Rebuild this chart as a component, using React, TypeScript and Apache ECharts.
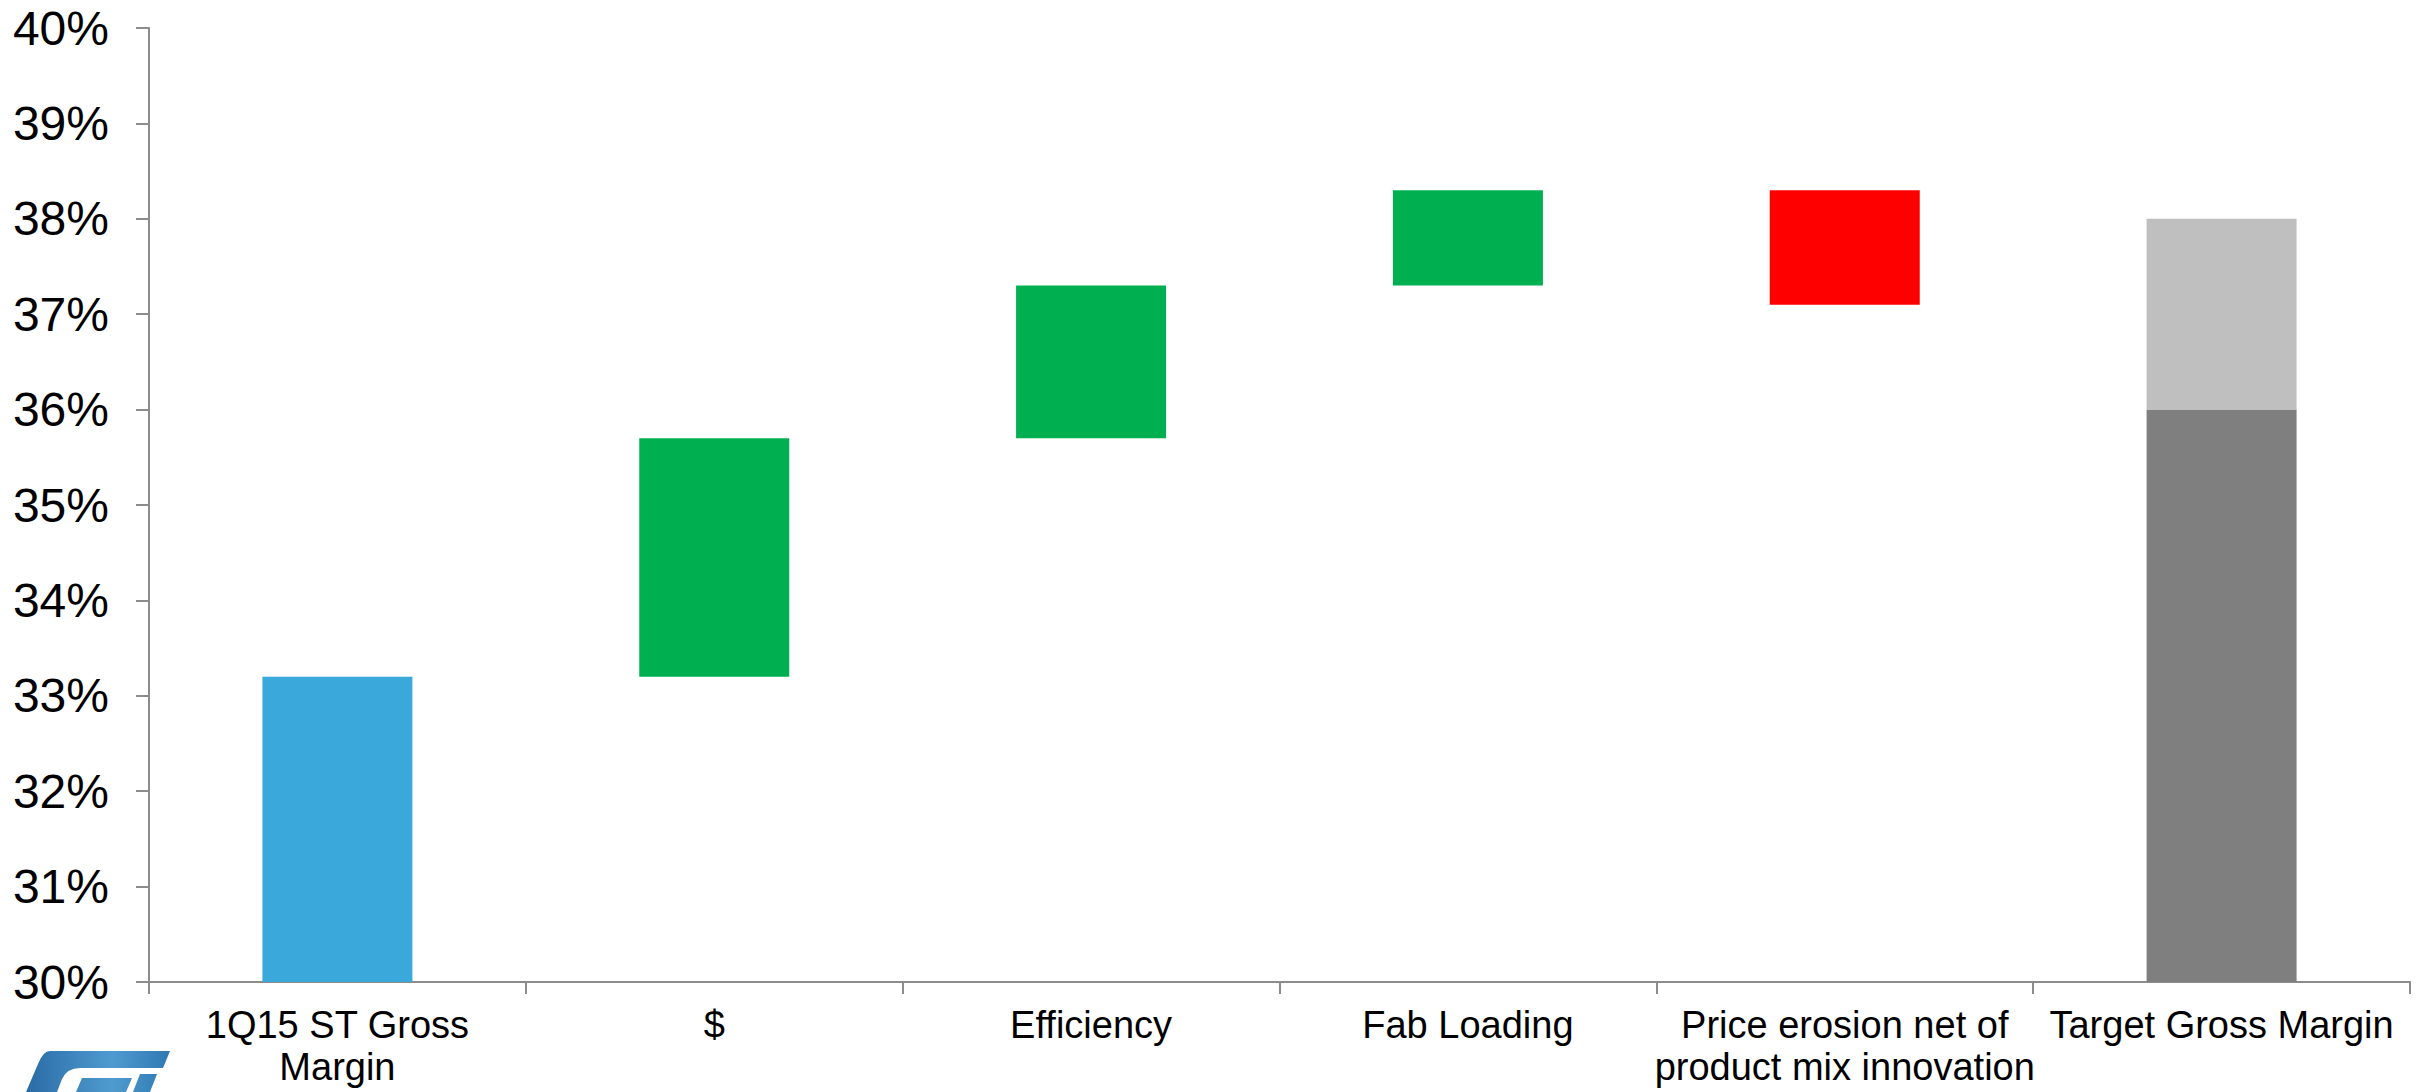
import React, { useEffect, useRef } from "react";
import * as echarts from "echarts";

const categories = [
  "1Q15 ST Gross\nMargin",
  "$",
  "Efficiency",
  "Fab Loading",
  "Price erosion net of\nproduct mix innovation",
  "Target Gross Margin",
];
const startValues = [30, 33.2, 35.7, 37.3, 38.3, 30];
const endValues = [33.2, 35.7, 37.3, 38.3, 37.1, 36];
const targetRangeTop = [null, null, null, null, null, 38];
const barColors = ["#3BA8DB", "#00B050", "#00B050", "#00B050", "#FF0000", "#7F7F7F"];
const yTicks = { min: 30, max: 40, interval: 1 };

const logoPath =
  "M 50 1051 L 170 1051 L 163 1068 L 80 1068 Q 67 1068 62 1079 L 57 1092 L 26 1092 L 38 1064 Q 43 1051 50 1051 Z " +
  "M 82 1078 L 132 1078 L 126 1092 L 76 1092 Z " +
  "M 140 1074 L 157 1074 L 150 1092 L 133 1092 Z";

export default function App() {
  const ref = useRef<HTMLDivElement>(null);
  useEffect(() => {
    if (!ref.current) return;
    echarts.graphic.registerShape("stlogo", echarts.graphic.extendPath(logoPath, {}) as any);
    const chart = echarts.init(ref.current, undefined, { renderer: "svg" });
    const base = startValues.map((s, i) => Math.min(s, endValues[i]));
    const delta = startValues.map((s, i) => +Math.abs(endValues[i] - s).toFixed(2));
    const extra = targetRangeTop.map((t, i) => (t == null ? null : +(t - endValues[i]).toFixed(2)));
    chart.setOption({
      animation: false,
      backgroundColor: "#ffffff",
      grid: { left: 149, right: 20, top: 28, bottom: 110, containLabel: false },
      xAxis: {
        type: "category",
        data: categories,
        axisLine: { lineStyle: { color: "#8c8c8c", width: 2 } },
        axisTick: { show: true, length: 12, lineStyle: { color: "#8c8c8c", width: 2 } },
        axisLabel: {
          interval: 0,
          margin: 22,
          color: "#000",
          fontFamily: "Liberation Sans, Arial, sans-serif",
          fontSize: 38,
          lineHeight: 42,
        },
      },
      yAxis: {
        type: "value",
        min: yTicks.min,
        max: yTicks.max,
        interval: yTicks.interval,
        splitLine: { show: false },
        axisLine: { show: true, lineStyle: { color: "#8c8c8c", width: 2 } },
        axisTick: { show: true, length: 13, lineStyle: { color: "#8c8c8c", width: 2 } },
        axisLabel: {
          formatter: "{value}%",
          margin: 40,
          color: "#000",
          fontFamily: "Liberation Sans, Arial, sans-serif",
          fontSize: 48,
        },
      },
      series: [
        {
          type: "bar",
          stack: "w",
          data: base,
          barWidth: 150,
          itemStyle: { color: "transparent" },
          silent: true,
        },
        {
          type: "bar",
          stack: "w",
          data: delta.map((v, i) => ({ value: v, itemStyle: { color: barColors[i] } })),
          barWidth: 150,
        },
        {
          type: "bar",
          stack: "w",
          data: extra,
          barWidth: 150,
          itemStyle: { color: "#BFBFBF" },
        },
      ],
      graphic: [
        {
          type: "stlogo",
          x: 0,
          y: 0,
          style: {
            fill: new echarts.graphic.LinearGradient(0, 0, 1, 0, [
              { offset: 0, color: "#2a6ba6" },
              { offset: 0.6, color: "#4f9bcf" },
              { offset: 1, color: "#2f78b3" },
            ]),
          },
        } as any,
      ],
    });
    return () => chart.dispose();
  }, []);
  return (
    <div
      ref={ref}
      style={{ position: "fixed", left: 0, top: 0, width: 2430, height: 1092 }}
    />
  );
}
